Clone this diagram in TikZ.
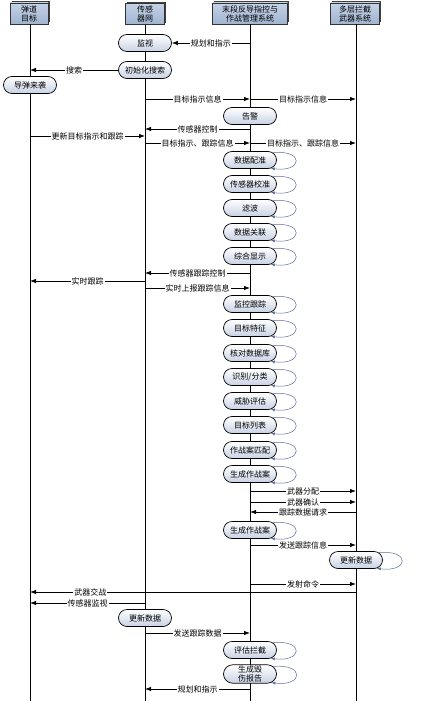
\documentclass[tikz,border=0pt]{standalone}
\usepackage{fontspec}
\newfontfamily\cjk{Noto Sans CJK SC}
\usetikzlibrary{arrows.meta}
\usetikzlibrary{shapes.misc}
\usetikzlibrary{shadows}

\definecolor{hdrtop}{RGB}{196,210,230}
\definecolor{hdrbot}{RGB}{160,180,208}
\definecolor{actbot}{RGB}{200,210,228}
\definecolor{loopc}{RGB}{95,110,155}

\tikzset{
	txt/.style={font=\cjk\fontsize{8}{9}\selectfont},
	hdr/.style={txt, draw=black!80, line width=0.5pt, top color=hdrtop, bottom color=hdrbot,
		align=center, inner sep=1pt, minimum height=21pt,
		drop shadow={shadow xshift=1.8pt, shadow yshift=1.8pt, fill=black!75, opacity=1}},
	act/.style={txt, rounded rectangle, draw, line width=0.7pt, top color=white, bottom color=actbot,
		minimum width=55pt, minimum height=17pt, inner sep=1pt, align=center},
	life/.style={line width=0.8pt},
	msg/.style={line width=0.8pt, -{Latex[length=6pt,width=4.5pt]}},
	lbl/.style={txt, fill=white, inner sep=1pt},
	selfloop/.style={draw=loopc, line width=0.5pt, -{Latex[length=4pt,width=3pt]}}
}

\begin{document}
\begin{tikzpicture}[x=1pt,y=-1pt]
	\useasboundingbox (0,0) rectangle (432,701);
	
	\def\xT{30}
	\def\xS{145}
	\def\xC{250}
	\def\xW{356}
	\def\yEnd{701}
	
	\node[hdr, minimum width=38pt] (T) at (\xT-1,13.5) {弹道\\目标};
	\node[hdr, minimum width=39pt] (S) at (\xS,14) {传感\\器网};
	\node[hdr, minimum width=75pt] (C) at (\xC,13.5) {末段反导指控与\\作战管理系统};
	\node[hdr, minimum width=49pt] (W) at (\xW-1,13.5) {多层拦截\\武器系统};
	
	\draw[life] (T.south -| \xT,0) -- (\xT,\yEnd);
	\draw[life] (S.south) -- (S |- 0,\yEnd);
	\draw[life] (C.south) -- (C |- 0,\yEnd);
	\draw[life] (W.south -| \xW,0) -- (\xW,\yEnd);
	
	\node[act] (Mon) at (\xS,43) {监视};
	\node[act] (Init) at (\xS,70) {初始化搜索};
	\node[act] (Inc) at (\xT,85) {导弹来袭};
	\node[act] (Alm) at (\xC,116) {告警};
	
	\foreach \n/\t/\y in {Reg/数据配准/160, Cal/传感器校准/184, Flt/滤波/208, Asc/数据关联/232,
		Dsp/综合显示/256, Trk/监控跟踪/304, Fea/目标特征/328, Dbs/核对数据库/353, Cls/{识别/分类}/377,
		Thr/威胁评估/401, Lst/目标列表/425, Mat/作战案匹配/450, Gen/生成作战案/474,
		GenB/生成作战案/530, Eva/评估拦截/650}
		\node[act] (\n) at (\xC,\y) {\t};
	\node[act] (Rep) at (\xC,674) {生成毁\\伤报告};
	\node[act] (UpdW) at (\xW,560) {更新数据};
	\node[act] (UpdS) at (\xS,618) {更新数据};
	
	\foreach \n in {Reg,Cal,Flt,Asc,Dsp,Trk,Fea,Dbs,Cls,Thr,Lst,Mat,Gen,GenB,Eva,Rep,UpdW}
		\draw[selfloop] (\n.18) .. controls +(32,-3) and +(32,4) .. (\n.-22);
	
	\draw[msg] (C |- Mon) -- node[lbl] {规划和指示} (Mon.east);
	\draw[msg] (Init.west) -- node[lbl] {搜索} (\xT,70);
	\draw[msg] (S |- 0,99) -- node[lbl] {目标指示信息} (C |- 0,99);
	\draw[msg] (C |- 0,99) -- node[lbl] {目标指示信息} (\xW,99);
	\draw[msg] (C |- 0,129) -- node[lbl] {传感器控制} (S |- 0,129);
	\draw[msg] (\xT,136) -- node[lbl] {更新目标指示和跟踪} (S |- 0,136);
	\draw[msg] (S |- 0,143) -- node[lbl] {目标指示、跟踪信息} (C |- 0,143);
	\draw[msg] (C |- 0,143) -- node[lbl] {目标指示、跟踪信息} (\xW,143);
	\draw[msg] (C |- 0,273) -- node[lbl] {传感器跟踪控制} (S |- 0,273);
	\draw[msg] (S |- 0,281) -- node[lbl] {实时跟踪} (\xT,281);
	\draw[msg] (S |- 0,288) -- node[lbl] {实时上报跟踪信息} (C |- 0,288);
	\draw[msg] (C |- 0,491) -- node[lbl] {武器分配} (\xW,491);
	\draw[msg] (C |- 0,502) -- node[lbl] {武器确认} (\xW,502);
	\draw[msg] (\xW,512) -- node[lbl] {跟踪数据请求} (C |- 0,512);
	\draw[msg] (C |- 0,545) -- node[lbl] {发送跟踪信息} (\xW,545);
	\draw[msg] (C |- 0,584) -- node[lbl] {发射命令} (\xW,584);
	\draw[msg] (\xW,592) -- node[lbl, pos=0.815] {武器交战} (\xT,592);
	\draw[msg] (S |- 0,603) -- node[lbl] {传感器监视} (\xT,603);
	\draw[msg] (S |- 0,633) -- node[lbl] {发送跟踪数据} (C |- 0,633);
	\draw[msg] (C |- 0,689) -- node[lbl] {规划和指示} (S |- 0,689);
	
\end{tikzpicture}
\end{document}
